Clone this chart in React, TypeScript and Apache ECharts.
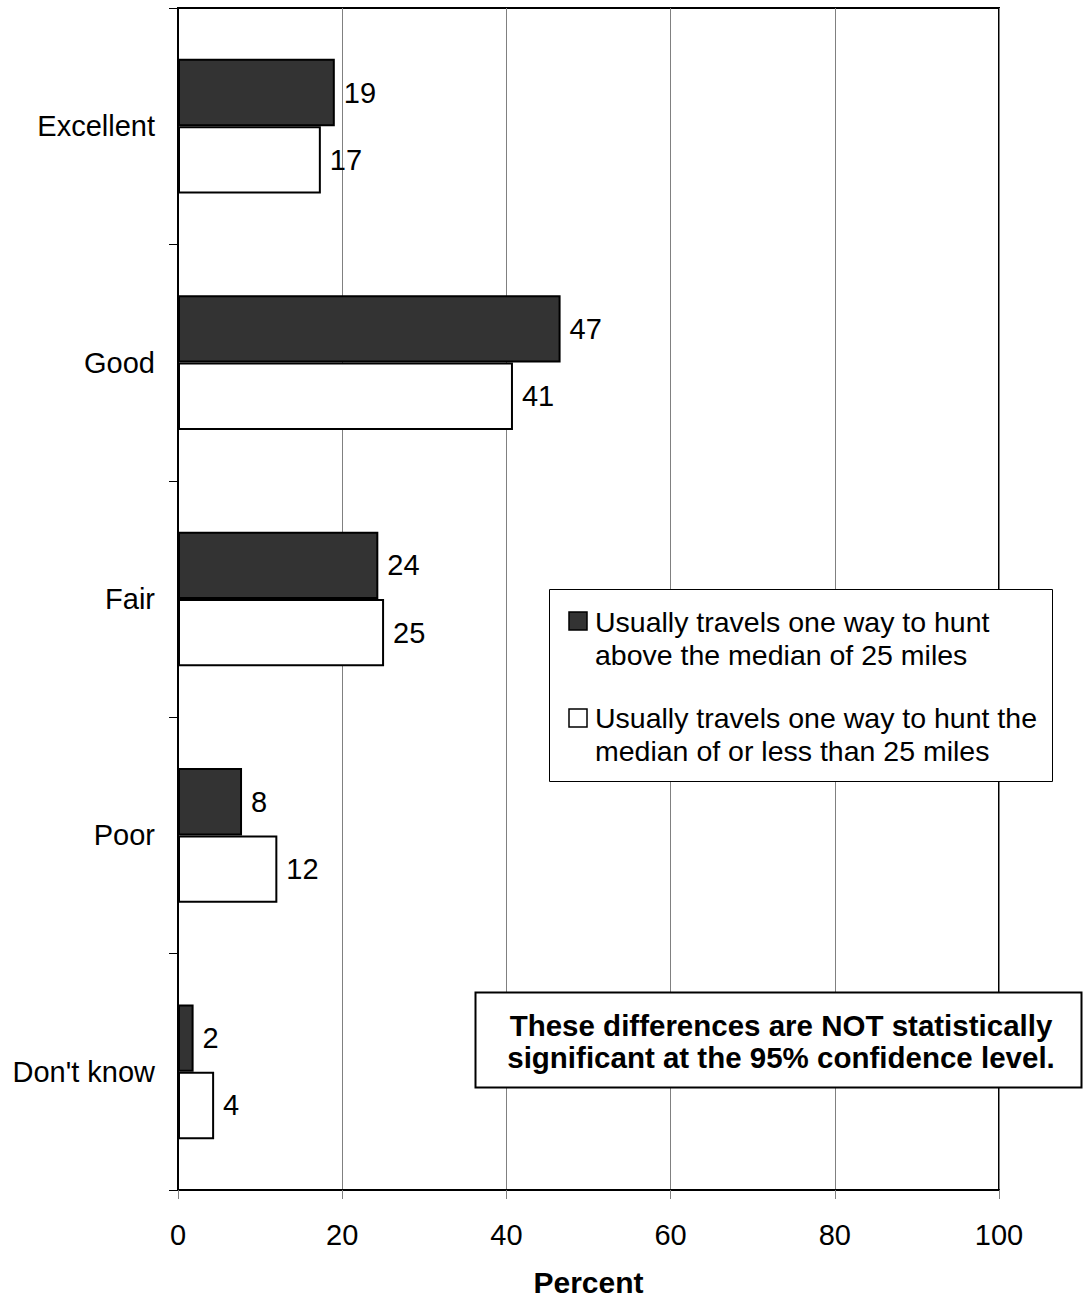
import React, { useEffect, useRef } from "react";
import * as echarts from "echarts";

const categories = ["Excellent", "Good", "Fair", "Poor", "Don't know"];
const aboveMedian = [19.1, 46.6, 24.4, 7.8, 1.9];
const atOrBelowMedian = [17.4, 40.8, 25.1, 12.1, 4.4];
const seriesNames = [
  "Usually travels one way to hunt\nabove the median of 25 miles",
  "Usually travels one way to hunt the\nmedian of or less than 25 miles",
];
const xTicks = { min: 0, max: 100, interval: 20 };
const note = "These differences are NOT statistically\nsignificant at the 95% confidence level.";

const FONT = "'Liberation Sans', Arial, sans-serif";
const FS = 29;
const FSB = 30;

export default function App() {
  const ref = useRef<HTMLDivElement>(null);
  useEffect(() => {
    if (!ref.current) return;
    const chart = echarts.init(ref.current, undefined, { renderer: "svg" });
    const labelCfg = {
      show: true,
      position: "right",
      distance: 9,
      fontSize: FS,
      fontFamily: FONT,
      color: "#000",
      formatter: (p: any) => String(Math.round(p.value)),
    };
    const legendText = (text: string, y: number) => ({
      type: "text",
      x: 595,
      y,
      style: {
        text,
        fontSize: 28.5,
        fontFamily: FONT,
        fill: "#000",
        lineHeight: 33,
        verticalAlign: "top",
      },
      z: 101,
    });
    chart.setOption({
      animation: false,
      backgroundColor: "#fff",
      textStyle: { fontFamily: FONT },
      grid: {
        left: 178,
        right: 84,
        top: 8,
        bottom: 108,
        containLabel: false,
        outerBoundsMode: "none",
        show: true,
        borderColor: "#000",
        borderWidth: 2,
        backgroundColor: "transparent",
      },
      xAxis: {
        type: "value",
        min: xTicks.min,
        max: xTicks.max,
        interval: xTicks.interval,
        name: "Percent",
        nameLocation: "middle",
        nameGap: 77,
        nameTextStyle: { fontSize: FSB, fontWeight: "bold", color: "#000", fontFamily: FONT },
        axisLine: { show: true, lineStyle: { color: "#000", width: 2 } },
        axisTick: { show: true, length: 9, lineStyle: { color: "#808080", width: 1 } },
        axisLabel: { fontSize: FS, color: "#000", margin: 30, fontFamily: FONT },
        splitLine: { show: true, lineStyle: { color: "#808080", width: 1 } },
      },
      yAxis: {
        type: "category",
        data: categories,
        inverse: true,
        axisLine: { show: true, lineStyle: { color: "#000", width: 2 } },
        axisTick: { show: true, length: 9, lineStyle: { color: "#000", width: 1 } },
        axisLabel: { fontSize: FS, color: "#000", margin: 23, fontFamily: FONT },
        splitLine: { show: false },
      },
      series: [
        {
          name: "above",
          type: "bar",
          data: aboveMedian,
          barGap: "0%",
          barCategoryGap: "43%",
          itemStyle: { color: "#333333", borderColor: "#000", borderWidth: 2 },
          label: labelCfg,
        },
        {
          name: "below",
          type: "bar",
          data: atOrBelowMedian,
          barGap: "0%",
          barCategoryGap: "43%",
          itemStyle: { color: "#ffffff", borderColor: "#000", borderWidth: 2 },
          label: labelCfg,
        },
      ],
      graphic: [
        {
          type: "rect",
          shape: { x: 549.5, y: 589.5, width: 503, height: 192 },
          style: { fill: "#fff", stroke: "#000", lineWidth: 1 },
          z: 100,
        },
        {
          type: "rect",
          shape: { x: 569, y: 612, width: 18, height: 18 },
          style: { fill: "#333333", stroke: "#000", lineWidth: 1.5 },
          z: 101,
        },
        legendText(seriesNames[0], 605),
        {
          type: "rect",
          shape: { x: 569, y: 709, width: 18, height: 18 },
          style: { fill: "#fff", stroke: "#000", lineWidth: 1.5 },
          z: 101,
        },
        legendText(seriesNames[1], 701),
        {
          type: "rect",
          shape: { x: 475.5, y: 992.5, width: 606, height: 95 },
          style: { fill: "#fff", stroke: "#000", lineWidth: 2 },
          z: 100,
        },
        {
          type: "text",
          x: 781,
          y: 1009,
          style: {
            text: note,
            fontSize: 29.5,
            fontWeight: "bold",
            fontFamily: FONT,
            fill: "#000",
            align: "center",
            verticalAlign: "top",
            lineHeight: 32,
          },
          z: 101,
        },
      ],
    });
    return () => chart.dispose();
  }, []);
  return (
    <div
      ref={ref}
      style={{ position: "absolute", left: 0, top: 0, width: 1083, height: 1298 }}
    />
  );
}
